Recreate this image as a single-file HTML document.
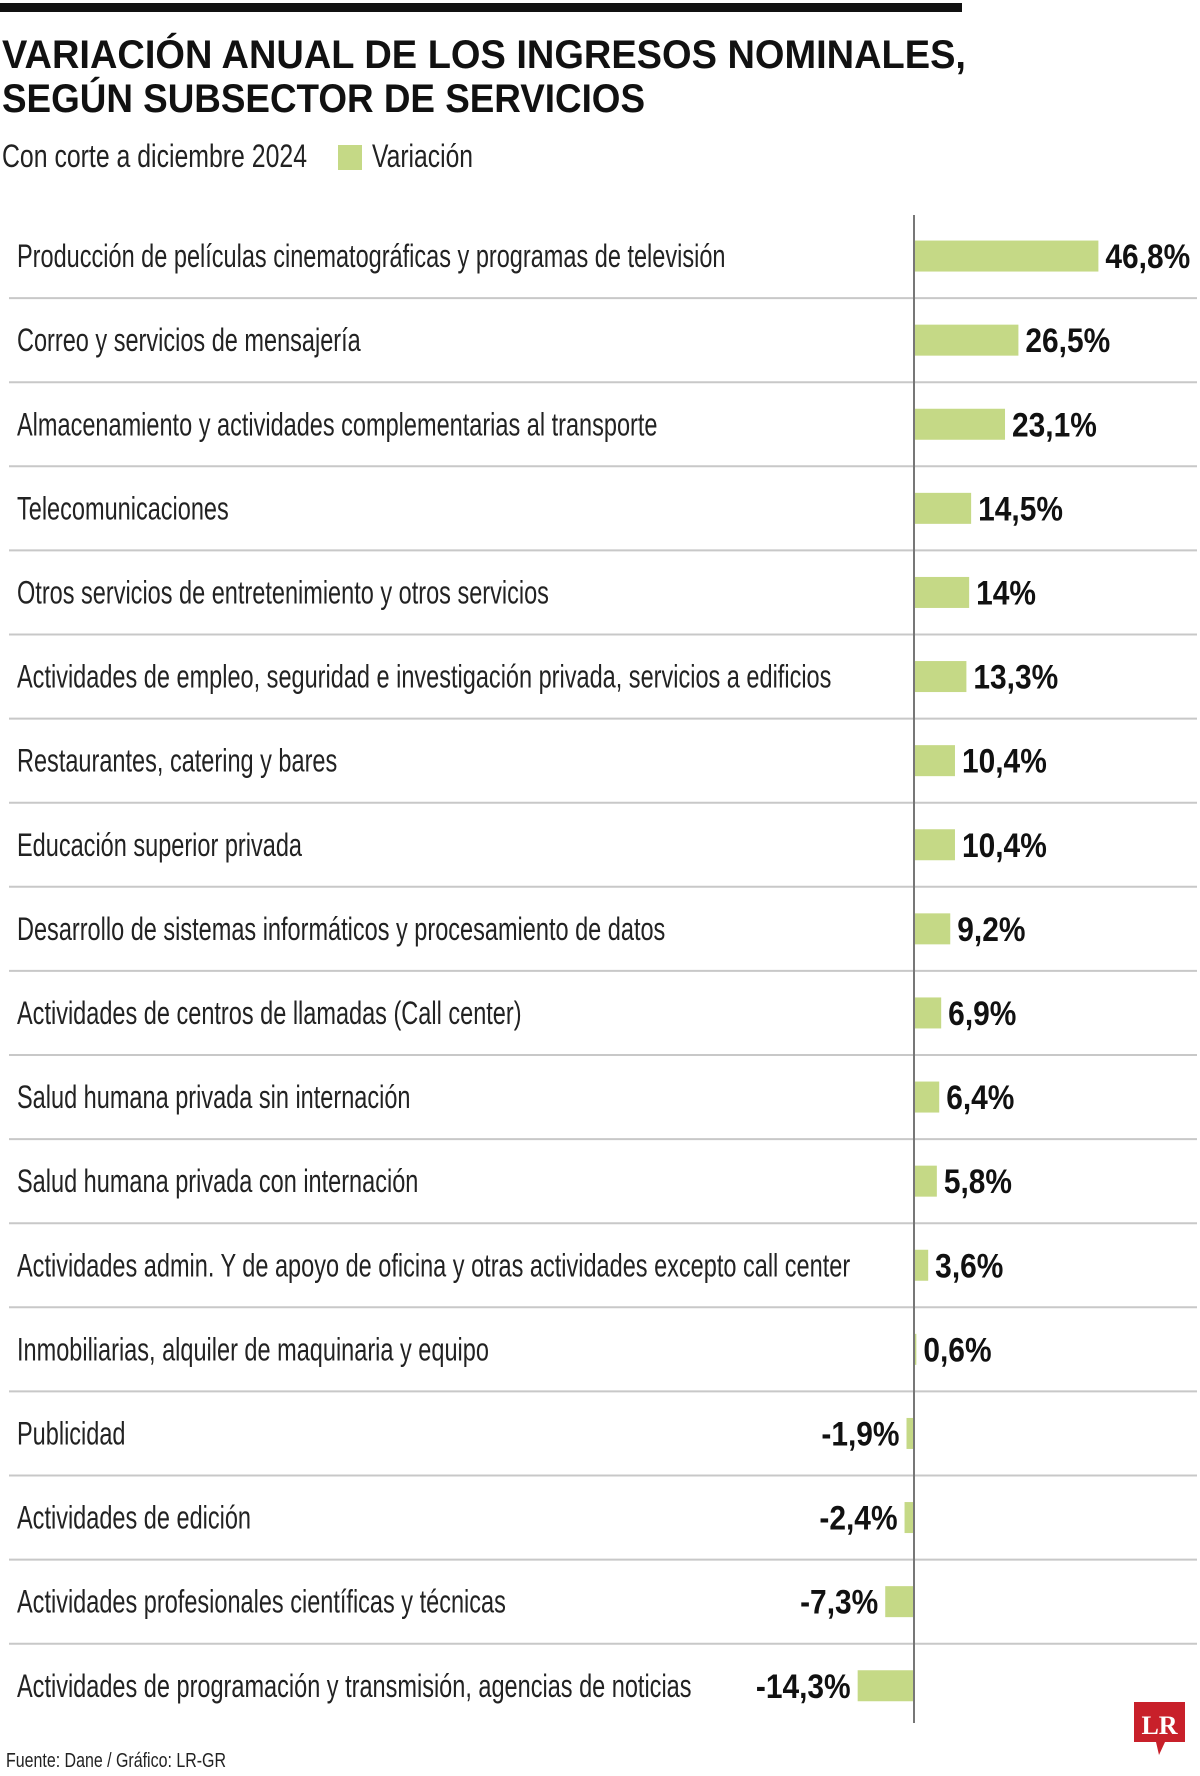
<!DOCTYPE html>
<html><head><meta charset="utf-8">
<style>
html,body{margin:0;padding:0;background:#fff;}
svg{display:block;font-family:"Liberation Sans",sans-serif;}
</style></head>
<body>
<svg id="chart" width="1200" height="1776" viewBox="0 0 1200 1776">
  <rect x="0" y="3" width="962" height="9" fill="#111"/>
  <text x="2" y="68" font-size="40" font-weight="bold" fill="#111" textLength="964" lengthAdjust="spacingAndGlyphs">VARIACIÓN ANUAL DE LOS INGRESOS NOMINALES,</text>
  <text x="2" y="112" font-size="40" font-weight="bold" fill="#111" textLength="643" lengthAdjust="spacingAndGlyphs">SEGÚN SUBSECTOR DE SERVICIOS</text>
  <text x="2" y="167" font-size="32" fill="#222" textLength="305" lengthAdjust="spacingAndGlyphs">Con corte a diciembre 2024</text>
  <rect x="338" y="145" width="24" height="25" fill="#c5d986"/>
  <text x="372" y="167" font-size="32" fill="#222" textLength="101" lengthAdjust="spacingAndGlyphs">Variación</text>
  <g id="rows"></g>
  <line x1="914" y1="215" x2="914" y2="1723" stroke="#777" stroke-width="2"/>
  <text x="6" y="1767" font-size="20" fill="#222" textLength="220" lengthAdjust="spacingAndGlyphs">Fuente: Dane / Gráfico: LR-GR</text>
  <g>
    <path d="M1134 1702 h51 v40 h-20 l-6 13 l-3 -13 h-22 z" fill="#c8202a"/>
    <text x="1159.5" y="1734" font-size="26" font-weight="bold" fill="#fff" text-anchor="middle" font-family="Liberation Serif,serif">LR</text>
  </g>
</svg>
<script>
const categories = [
 "Producción de películas cinematográficas y programas de televisión",
 "Correo y servicios de mensajería",
 "Almacenamiento y actividades complementarias al transporte",
 "Telecomunicaciones",
 "Otros servicios de entretenimiento y otros servicios",
 "Actividades de empleo, seguridad e investigación privada, servicios a edificios",
 "Restaurantes, catering y bares",
 "Educación superior privada",
 "Desarrollo de sistemas informáticos y procesamiento de datos",
 "Actividades de centros de llamadas (Call center)",
 "Salud humana privada sin internación",
 "Salud humana privada con  internación",
 "Actividades admin. Y de apoyo de oficina y otras actividades excepto call center",
 "Inmobiliarias, alquiler de maquinaria y equipo",
 "Publicidad",
 "Actividades de edición",
 "Actividades profesionales científicas y técnicas",
 "Actividades de programación y transmisión, agencias de noticias"
];
const values = [46.8,26.5,23.1,14.5,14,13.3,10.4,10.4,9.2,6.9,6.4,5.8,3.6,0.6,-1.9,-2.4,-7.3,-14.3];
const valueLabels = ["46,8%","26,5%","23,1%","14,5%","14%","13,3%","10,4%","10,4%","9,2%","6,9%","6,4%","5,8%","3,6%","0,6%","-1,9%","-2,4%","-7,3%","-14,3%"];

const NS="http://www.w3.org/2000/svg";
const g=document.getElementById('rows');
const zeroX=914, pxPerUnit=3.94, rowTop=214, rowH=84.1, barH=31;
function xScale(v){return zeroX+v*pxPerUnit;}
function yCenter(i){return rowTop+rowH*i+rowH/2;}
function mk(tag,attrs){const e=document.createElementNS(NS,tag);for(const k in attrs)e.setAttribute(k,attrs[k]);return e;}
categories.forEach((c,i)=>{
  const cy=yCenter(i), v=values[i];
  const t=mk('text',{x:0,y:0,'font-size':32,fill:'#222',transform:`translate(17,${cy+11}) scale(0.735,1)`});
  
  
  t.textContent=c; g.appendChild(t);
  const x0=Math.min(xScale(0),xScale(v)), w=Math.abs(xScale(v)-xScale(0));
  const r=mk('rect',{x:x0,y:cy-barH/2,width:Math.max(w,1),height:barH,fill:'#c5d986'});
  
  
  g.appendChild(r);
  const pos=v>=0;
  const lx=pos?xScale(v)+7:xScale(v)-7;
  const vt=mk('text',{x:0,y:0,'font-size':34,'font-weight':'bold',fill:'#111','text-anchor':pos?'start':'end',transform:`translate(${lx},${cy+12}) scale(0.88,1)`});
  
  
  vt.textContent=valueLabels[i]; g.appendChild(vt);
  if(i<categories.length-1){
    const ly=rowTop+rowH*(i+1);
    const l=mk('line',{x1:9,x2:1197,y1:ly,y2:ly,stroke:'#c8c8c8','stroke-width':2});
    
    
    g.appendChild(l);
  }
});
</script>
</body></html>
